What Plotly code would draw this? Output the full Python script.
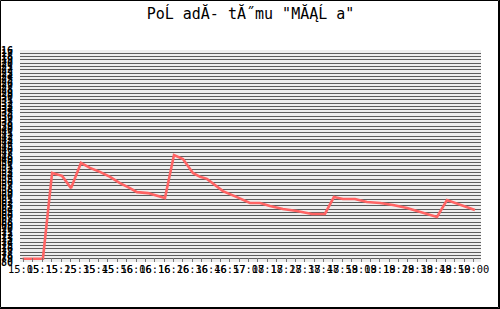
import plotly.graph_objects as go

# time in minutes since 15:05 (label spacing = 10 min)
t_min = [-0.5, 10.3, 15.2, 20.5, 25.3, 30.6, 35.4, 40.7, 46.1, 51.4, 56.7, 60.5,
         66.3, 71.1, 75.4, 80.2, 85.0, 90.3, 94.1, 97.8, 101.0, 106.3, 113.8,
         120.7, 126.1, 131.4, 138.3, 145.8, 153.8, 160.7, 165.5, 170.3, 176.7,
         183.1, 190.1, 197.0, 204.5, 211.4, 220.5, 225.8, 229.0, 234.3, 240.7]
rank = [79.0, 79.0, 53.1, 54.0, 57.7, 50.1, 51.6, 52.8, 54.3, 56.2, 57.7, 58.9,
        59.2, 60.1, 60.7, 47.7, 48.9, 53.1, 54.3, 54.9, 56.2, 58.6, 60.4,
        62.2, 62.2, 63.1, 64.0, 64.6, 65.5, 65.5, 60.4, 61.0, 61.0,
        61.9, 62.2, 62.8, 63.7, 64.9, 66.4, 61.3, 61.9, 63.1, 64.3]

x_tickvals = [10 * i for i in range(25)]
x_ticktext = ["15:05", "15:15", "15:25", "15:35", "15:45", "15:56", "16:06", "16:16",
              "16:26", "16:36", "16:46", "16:57", "17:08", "17:18", "17:28", "17:38",
              "17:48", "17:59", "18:09", "18:19", "18:29", "18:39", "18:49", "18:50",
              "19:00"]
y_tickvals = list(range(16, 81))

title_text = 'PoĹ adĂ- tĂ˝mu "MĂĄĹ a"'

W, H = 500, 309
L, R, T, B = 20, 19, 50, 47
pw, ph = W - L - R, H - T - B

def px(x):
    return (x - L) / pw

def py(y):
    return (H - B - y) / ph

fig = go.Figure()
fig.add_trace(go.Scatter(x=t_min, y=rank, mode="lines",
                         line=dict(color="#ff6464", width=2.6), hoverinfo="skip"))

fig.update_layout(
    width=W, height=H,
    margin=dict(l=L, r=R, t=T, b=B, pad=0, autoexpand=False),
    paper_bgcolor="white",
    plot_bgcolor="#eeeeee",
    showlegend=False,
    title=dict(text=title_text, x=0.5, xref="paper", xanchor="center",
               y=1 - 14 / H, yref="container", yanchor="middle",
               font=dict(family="DejaVu Sans Mono", size=15, color="black")),
    xaxis=dict(range=[-1.92, 243.95], tickmode="array", tickvals=x_tickvals,
               ticktext=x_ticktext, tickangle=0, showgrid=False, zeroline=False,
               automargin=False,
               ticks="inside", ticklen=4, tickcolor="#777777",
               minor=dict(dtick=5, tick0=0, ticks="inside", ticklen=4, tickcolor="#777777"),
               tickfont=dict(family="DejaVu Sans Mono", size=10.4, color="black"),
               showline=False),
    yaxis=dict(range=[80, 16], tickmode="array", tickvals=y_tickvals,
               showgrid=True, gridcolor="#5e5e5e", gridwidth=1, zeroline=False,
               automargin=False,
               ticks="", ticklabelstandoff=6,
               tickfont=dict(family="DejaVu Sans Mono", size=10, color="black",
                             weight="bold"),
               showline=False),
    shapes=[
        dict(type="rect", xref="paper", yref="paper",
             x0=px(0.5), x1=px(498.5), y0=py(0.5), y1=py(307.5),
             line=dict(color="black", width=1)),
        dict(type="line", xref="paper", yref="paper",
             x0=px(499.5), x1=px(499.5), y0=py(0), y1=py(309),
             line=dict(color="black", width=1)),
        dict(type="line", xref="paper", yref="paper",
             x0=px(0), x1=px(500), y0=py(308.5), y1=py(308.5),
             line=dict(color="black", width=1)),
    ],
)

fig.write_html("out.html")
